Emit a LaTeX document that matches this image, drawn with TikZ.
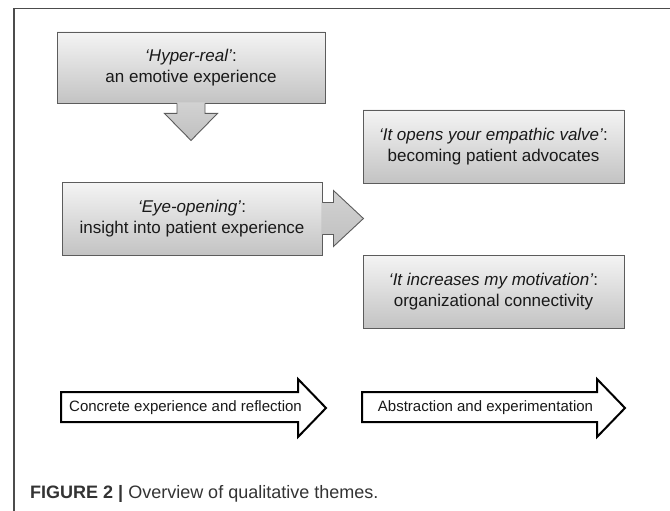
\documentclass[tikz,border=0pt]{standalone}
\usepackage{fontspec}
\setmainfont{Liberation Sans}
\usepackage{xcolor}
\usepackage{tikz}
\usetikzlibrary{calc,positioning,shadows}
\definecolor{boxline}{HTML}{5C5C5C}
\definecolor{boxtop}{HTML}{F4F4F4}
\definecolor{boxbottom}{HTML}{C3C3C3}
\definecolor{pointtop}{HTML}{D2D2D2}
\definecolor{pointbottom}{HTML}{C0C0C0}
\definecolor{captext}{HTML}{333333}
\tikzstyle{theme} = [draw=boxline, line width=0.9pt, top color=boxtop,
    bottom color=boxbottom, rectangle, inner sep=0pt, minimum height=73pt,
    align=center, text=black!90, font=\fontsize{17}{20.5}\selectfont,
    drop shadow={shadow xshift=1pt, shadow yshift=-1pt, opacity=0.35, fill=black!60}]
\tikzstyle{pointerfill} = [top color=pointtop, bottom color=pointbottom]
\tikzstyle{pointerline} = [draw=boxline, line width=0.9pt, line join=miter]
\tikzstyle{stage} = [draw=black, line width=2pt, fill=white, line join=miter]
\tikzstyle{stagetext} = [inner sep=0pt, text=black!90, font=\fontsize{15}{18}\selectfont]
\tikzstyle{frameline} = [draw=black!70, line width=1.2pt]

\begin{document}
\begin{tikzpicture}[x=1pt,y=-1pt]
\useasboundingbox (0,0) rectangle (670,511);
\draw[frameline] (14,511) -- (14,8.5) -- (670,8.5);

% themes
\node[theme, minimum width=268pt, minimum height=71pt] (hyper) at (191,67.5)
    {\textit{‘Hyper-real’}:\\an emotive experience};
\node[theme, minimum width=260pt] (eye) at (192,218.5)
    {\textit{‘Eye-opening’}:\\insight into patient experience};
\node[theme, minimum width=261pt] (valve) at (493.5,146.5)
    {\textit{‘It opens your empathic valve’}:\\becoming patient advocates};
\node[theme, minimum width=261pt] (motiv) at (493.5,291.5)
    {\textit{‘It increases my motivation’}:\\organizational connectivity};

% callout arrows
\path[pointerfill] ($(hyper.south)+(-14,-1)$) -- ++(0,11) -- ++(-12.5,0)
    -- ++(26.5,27) -- ++(26.5,-27) -- ++(-12.5,0) -- ++(0,-11) -- cycle;
\draw[pointerline] ($(hyper.south)+(-14,0)$) -- ++(0,10) -- ++(-12.5,0)
    -- ++(26.5,27) -- ++(26.5,-27) -- ++(-12.5,0) -- ++(0,-10);
\path[pointerfill] ($(eye.east)+(-1,-16)$) -- ++(12,0) -- ++(0,-12)
    -- ++(30,28) -- ++(-30,28) -- ++(0,-12) -- ++(-12,0) -- cycle;
\draw[pointerline] ($(eye.east)+(0,-16)$) -- ++(11,0) -- ++(0,-12)
    -- ++(30,28) -- ++(-30,28) -- ++(0,-12) -- ++(-11,0);

% stages
\draw[stage] (61,392) -- (298,392) -- (298,379) -- (326,408) -- (298,437)
    -- (298,422) -- (61,422) -- cycle;
\node[stagetext] (concrete) at (185.5,407.5) {Concrete experience and reflection};
\draw[stage] (362,392) -- (597,392) -- (597,379) -- (625,408) -- (597,437)
    -- (597,422) -- (362,422) -- cycle;
\node[stagetext] (abstract) at (485.5,407.5) {Abstraction and experimentation};

\node[anchor=base west, inner sep=0pt, text=captext,
    font=\fontsize{18}{21}\selectfont] (caption) at (30,498)
    {\textbf{FIGURE 2 |} Overview of qualitative themes.};
\end{tikzpicture}
\end{document}
